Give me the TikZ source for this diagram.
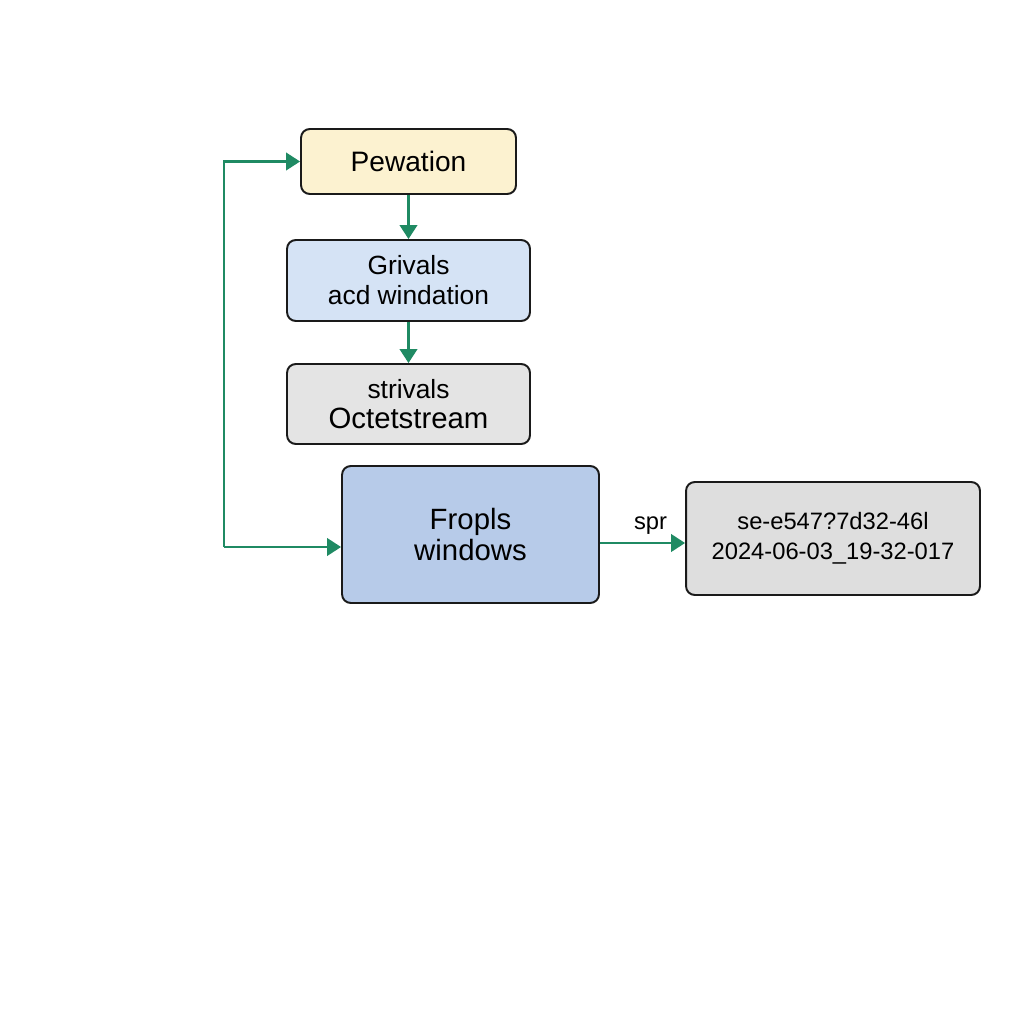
\documentclass[tikz,border=0pt]{standalone}
\usepackage{fontspec}
\setmainfont{Liberation Sans}
\usepackage{xcolor}
\definecolor{lineblack}{RGB}{26,26,26}
\definecolor{flowgreen}{RGB}{31,138,99}
\definecolor{mycream}{RGB}{252,242,208}
\definecolor{mylightblue}{RGB}{213,227,245}
\definecolor{mydarkblue}{RGB}{183,203,233}
\definecolor{mylightgray}{RGB}{228,228,228}
\definecolor{mygray}{RGB}{222,222,222}
\usetikzlibrary{arrows.meta}
\newcommand{\bigtext}{\fontsize{16.7pt}{18pt}\selectfont}
\newcommand{\toptext}{\fontsize{16pt}{18pt}\selectfont}
\newcommand{\smalltext}{\fontsize{15pt}{17pt}\selectfont}
\newcommand{\idtext}{\fontsize{13.5pt}{17pt}\selectfont}
\newcommand{\widthstage}{4.86cm}
\tikzset{
    common/.style={draw=lineblack, line width=1.1pt, rounded corners=5pt, inner sep=0pt, align=center, text=black},
    stage/.style={common, minimum width=\widthstage, minimum height=1.62cm, font=\smalltext},
    flow/.style={draw=flowgreen, line width=1.4pt, -{Triangle[length=2.8mm, width=3.5mm]}},
}

\begin{document}
\begin{tikzpicture}[x=0.02cm, y=-0.02cm]
  \useasboundingbox[fill=white] (0,0) rectangle (1024,1024);

  \node[common, fill=mycream, minimum width=4.3cm, minimum height=1.3cm, font=\toptext]
      (pewation) at (408.5,161.5) {Pewation};
  \node[stage, fill=mylightblue] (grivals) at (408.5,280.5) {Grivals\\acd windation};
  \node[stage, fill=mylightgray, minimum height=1.6cm] (strivals) at (408.5,404)
      {strivals\\{\bigtext Octetstream}};
  \node[common, fill=mydarkblue, minimum width=5.14cm, minimum height=2.74cm, font=\bigtext,
      align=center] (fropls) at (470.5,534.5) {Fropls\\windows};
  \node[common, fill=mygray, minimum width=5.88cm, minimum height=2.26cm, font=\idtext]
      (output) at (833,538.5) {se-e547?7d32-46l\\2024-06-03\_19-32-017};

  \coordinate (loop) at (224,547);

  \draw[flow] (pewation) -- (grivals);
  \draw[flow] (grivals) -- (strivals);
  \draw[flow] (loop) |- (pewation.west);
  \draw[flow] (loop) -- (loop -| fropls.west);
  \draw[flow] ([yshift=-0.17cm]fropls.east) -- node[above, font=\idtext, xshift=0.16cm, yshift=1pt]{spr}
      ([yshift=-0.17cm]fropls.east -| output.west);
\end{tikzpicture}
\end{document}
